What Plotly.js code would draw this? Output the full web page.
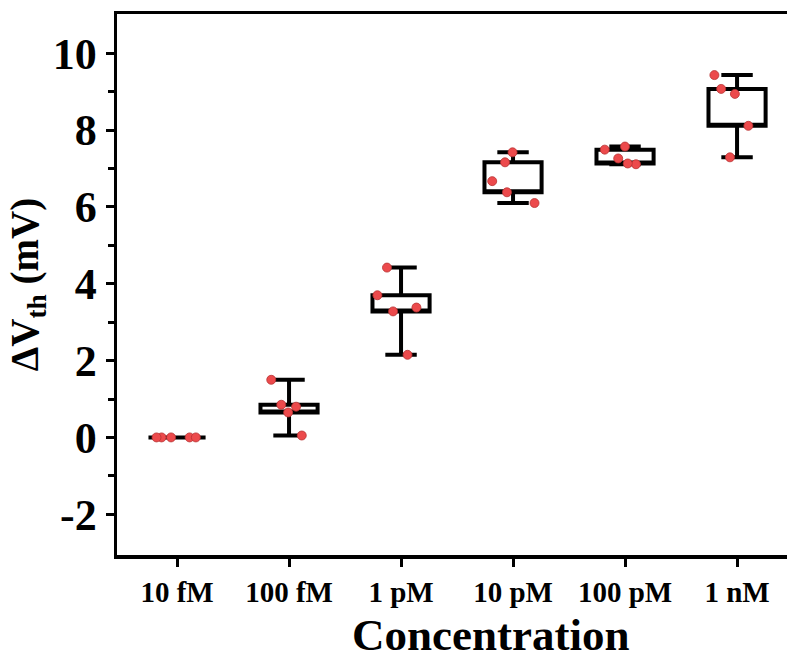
<!DOCTYPE html>
<html>
<head>
<meta charset="utf-8">
<script src="https://cdn.plot.ly/plotly-3.0.1.min.js"></script>
<style>html,body{margin:0;padding:0;background:#fff;}#chart{width:787px;height:664px;}</style>
</head>
<body>
<div id="chart"></div>
<script>
// Categories (tick labels)
var categories = ['10 fM', '100 fM', '1 pM', '10 pM', '100 pM', '1 nM'];
// Measured ΔVth (mV) values for each concentration (5 devices each)
var v10fM  = [0, 0, 0, 0, 0];
var v100fM = [1.50, 0.85, 0.80, 0.65, 0.05];
var v1pM   = [4.42, 3.70, 3.38, 3.28, 2.15];
var v10pM  = [7.42, 7.16, 6.67, 6.38, 6.10];
var v100pM = [7.57, 7.49, 7.26, 7.13, 7.11];
var v1nM   = [9.43, 9.07, 8.94, 8.11, 7.29];

var xTitle = 'Concentration';
var yTitle = 'ΔV<sub>th</sub> (mV)';

var groups = [v10fM, v100fM, v1pM, v10pM, v100pM, v1nM];

function pct(arr, p) {
  var s = arr.slice().sort(function (a, b) { return a - b; });
  var idx = p * (s.length - 1);
  var lo = Math.floor(idx), hi = Math.ceil(idx);
  return s[lo] + (s[hi] - s[lo]) * (idx - lo);
}

var q1 = groups.map(function (g) { return pct(g, 0.25); });
var q3 = groups.map(function (g) { return pct(g, 0.75); });
var lo = groups.map(function (g) { return Math.min.apply(null, g); });
var hi = groups.map(function (g) { return Math.max.apply(null, g); });
// median line is not drawn in the original: let it coincide with the box edge
var med = q1.slice();

var ptsX = [], ptsY = [];
groups.forEach(function (g, i) {
  g.forEach(function (v) { ptsX.push(categories[i]); ptsY.push(v); });
});

var serif = 'Liberation Serif, Times New Roman, serif';

var boxTrace = {
  type: 'box',
  x: categories,
  q1: q1, median: med, q3: q3,
  lowerfence: lo, upperfence: hi,
  width: 0.51,
  whiskerwidth: 0.55,
  line: { color: '#000000', width: 4 },
  fillcolor: 'rgba(255,255,255,0)',
  boxpoints: false,
  hoverinfo: 'skip',
  showlegend: false
};

var ptsTrace = {
  type: 'box',
  x: ptsX,
  y: ptsY,
  width: 0.51,
  boxpoints: 'all',
  jitter: 0.85,
  pointpos: 0,
  whiskerwidth: 0,
  line: { color: 'rgba(0,0,0,0)', width: 0 },
  fillcolor: 'rgba(0,0,0,0)',
  marker: { color: '#ec4a4c', size: 9, line: { color: '#b83232', width: 0.8 } },
  hoverinfo: 'skip',
  showlegend: false
};

var layout = {
  width: 787,
  height: 664,
  margin: { l: 117, r: 0, t: 14, b: 109 },
  paper_bgcolor: '#ffffff',
  plot_bgcolor: '#ffffff',
  showlegend: false,
  boxmode: 'overlay',
  font: { family: serif, color: '#000000', weight: 700 },
  xaxis: {
    type: 'category',
    range: [-0.536, 5.446],
    showgrid: false,
    zeroline: false,
    showline: true,
    linecolor: '#000000',
    linewidth: 3.5,
    mirror: true,
    ticks: 'outside',
    ticklen: 8,
    tickwidth: 3,
    tickcolor: '#000000',
    ticklabelstandoff: 1,
    tickfont: { family: serif, size: 29, color: '#000000', weight: 700 }
  },
  yaxis: {
    range: [-3.06, 11.02],
    tickvals: [-2, 0, 2, 4, 6, 8, 10],
    ticktext: ['-2', '0', '2', '4', '6', '8', '10'],
    showgrid: false,
    zeroline: false,
    showline: true,
    linecolor: '#000000',
    linewidth: 3.5,
    mirror: false,
    ticks: 'outside',
    ticklen: 8,
    tickwidth: 3,
    tickcolor: '#000000',
    minor: { tickvals: [-1, 1, 3, 5, 7, 9], ticks: 'outside', ticklen: 6, tickwidth: 3, tickcolor: '#000000' },
    tickfont: { family: serif, size: 44, color: '#000000', weight: 700 },
    title: { text: yTitle, font: { family: serif, size: 39, color: '#000000', weight: 700 }, standoff: 3 }
  },
  annotations: [{
    text: xTitle,
    xref: 'paper', yref: 'paper',
    x: 0.557, y: -0.198,
    xanchor: 'center', yanchor: 'bottom',
    showarrow: false,
    font: { family: serif, size: 45, color: '#000000', weight: 700 }
  }]
};

Plotly.newPlot('chart', [boxTrace, ptsTrace], layout, { staticPlot: true, displayModeBar: false });
</script>
</body>
</html>
